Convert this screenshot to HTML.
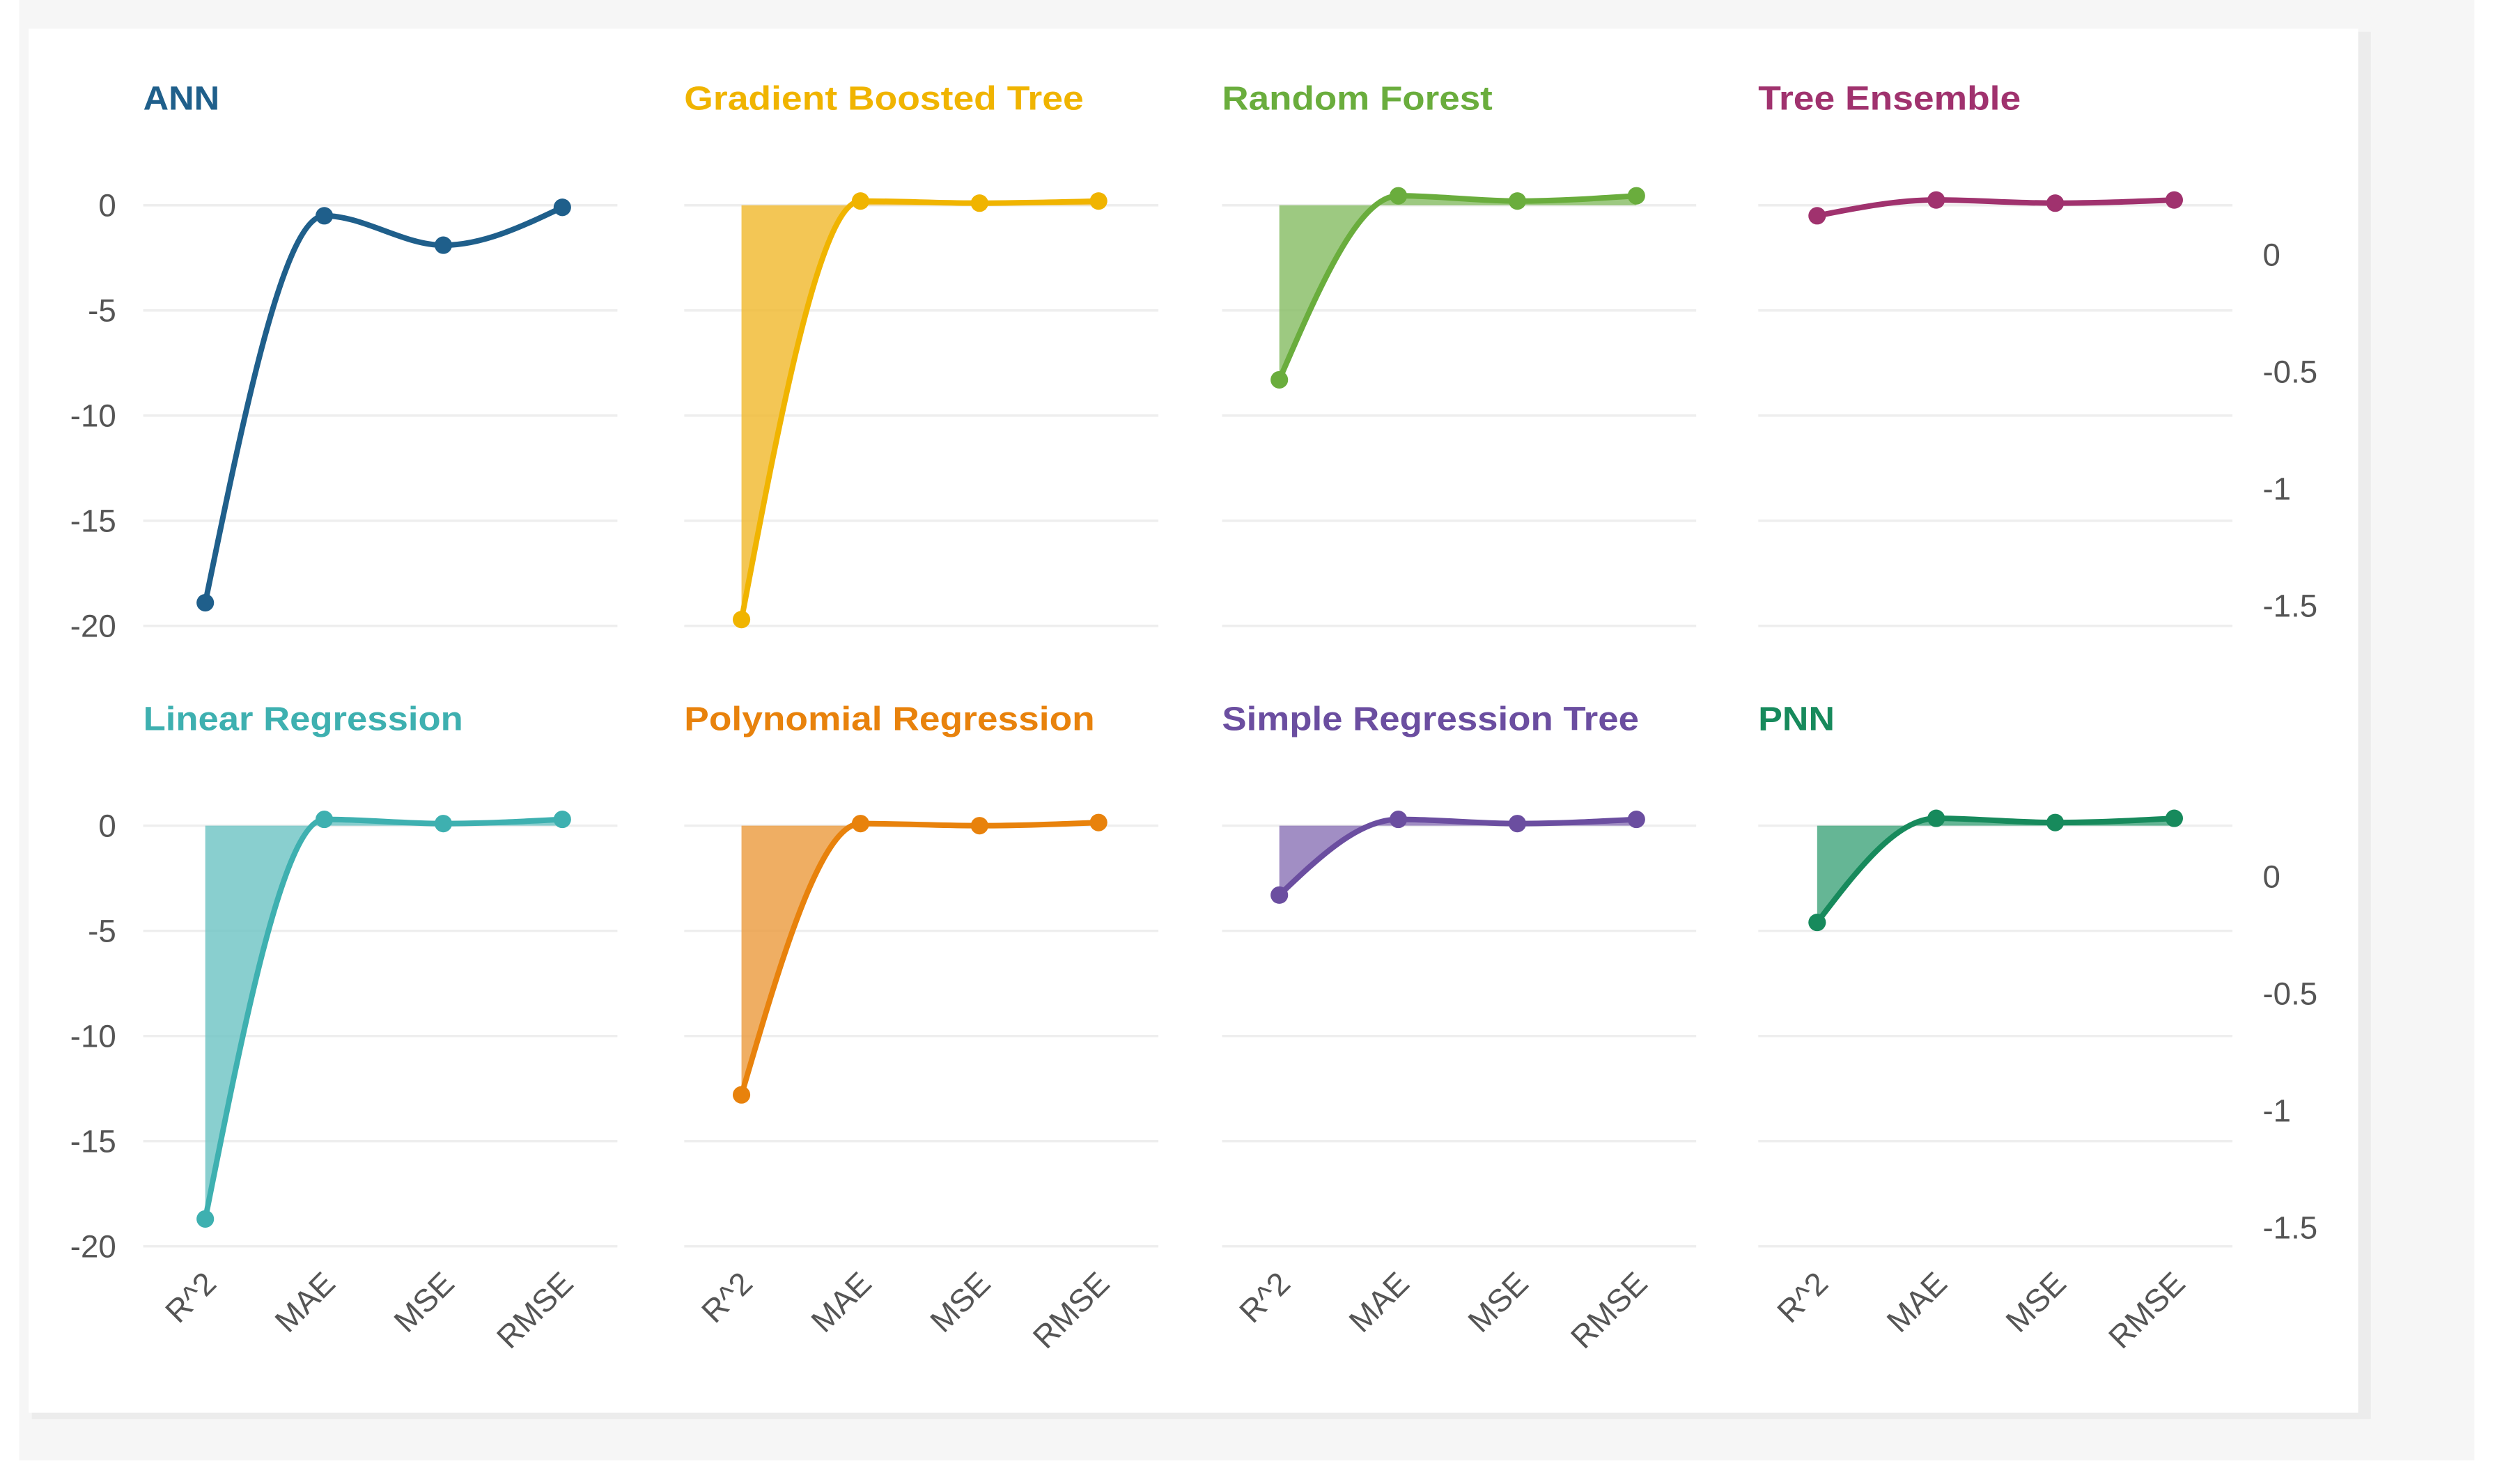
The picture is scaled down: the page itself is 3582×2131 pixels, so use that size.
<!DOCTYPE html>
<html><head><meta charset="utf-8">
<style>
html,body{margin:0;padding:0;background:#fff;}
svg{display:block;}
text{font-family:"Liberation Sans",sans-serif;}
</style></head>
<body>
<svg id="chart" width="3582" height="2131" viewBox="0 0 1568 932.8" xmlns="http://www.w3.org/2000/svg">
  <rect x="12" y="0" width="1543" height="918" fill="#f6f6f6"/>
  <rect x="20" y="20" width="1470" height="872" fill="#ececec"/>
  <rect x="18" y="18" width="1464" height="870" fill="#ffffff"/>
  <g id="plots"></g>
</svg>
<script>
const categories = ["R^2","MAE","MSE","RMSE"];
const modelNames = ["ANN","Gradient Boosted Tree","Random Forest","Tree Ensemble","Linear Regression","Polynomial Regression","Simple Regression Tree","PNN"];
const annValues = [-18.9,-0.5,-1.9,-0.1];
const gbtValues = [-19.7,0.2,0.1,0.2];
const rfValues = [-8.3,0.45,0.2,0.45];
const teValues = [-0.5,0.25,0.1,0.25];
const lrValues = [-18.7,0.3,0.1,0.3];
const prValues = [-12.8,0.1,0.0,0.15];
const srtValues = [-3.3,0.3,0.1,0.3];
const pnnValues = [-4.6,0.35,0.15,0.35];
const leftTicks = [0,-5,-10,-15,-20];
const rightTicks = [0,-0.5,-1,-1.5];

const seriesList = [annValues,gbtValues,rfValues,teValues,lrValues,prValues,srtValues,pnnValues];
const hasFill = [false,true,true,false,true,true,true,true];
const lineColors = ["#1f5f8b","#f0b400","#6aad3d","#a0326e","#3eb0b0","#e8820c","#6b4ea0","#178a5c"];
const fillColors = ["#1f5f8b","#f0b82a","#85bb62","#a0326e","#6cc3c3","#eb9a3c","#8a72b5","#3fa47a"];
const titleLens = [48,251,170,165,201,258,262,48];
const colX = [90,430,768,1105];
const pointStart = [129,466,804,1142];
const rowZero = [129,519];
const pxPerUnit = 13.22;
const rightZero = [160,551];
const rightPx = 147;

const NS = "http://www.w3.org/2000/svg";
const root = document.getElementById("plots");
function mk(tag, attrs, parent){
  const e = document.createElementNS(NS, tag);
  for (const k in attrs) e.setAttribute(k, attrs[k]);
  (parent||root).appendChild(e);
  return e;
}
function monotone(pts){
  const n = pts.length;
  const dx=[],dy=[],m=[],t=new Array(n);
  for(let i=0;i<n-1;i++){dx[i]=pts[i+1][0]-pts[i][0];dy[i]=pts[i+1][1]-pts[i][1];m[i]=dy[i]/dx[i];}
  for(let i=1;i<n-1;i++){
    if(m[i-1]*m[i]<=0) t[i]=0;
    else { const h0=dx[i-1],h1=dx[i]; const p=(m[i-1]*h1+m[i]*h0)/(h0+h1);
      t[i]=(Math.sign(m[i-1])+Math.sign(m[i]))*Math.min(Math.abs(m[i-1]),Math.abs(m[i]),0.5*Math.abs(p)); }
  }
  t[0]=(3*m[0]-t[1])/2; t[n-1]=(3*m[n-2]-t[n-2])/2;
  let d="M"+pts[0][0]+","+pts[0][1];
  for(let i=0;i<n-1;i++){
    const h=dx[i]/3;
    d+=" C"+(pts[i][0]+h)+","+(pts[i][1]+h*t[i])+" "+(pts[i+1][0]-h)+","+(pts[i+1][1]-h*t[i+1])+" "+pts[i+1][0]+","+pts[i+1][1];
  }
  return d;
}

for (let r=0;r<2;r++){
  const y0 = rowZero[r];
  const yScale = v => y0 - v*pxPerUnit;
  leftTicks.forEach(tv=>{
    const lt = mk("text",{x:73,y:yScale(tv)+7,"text-anchor":"end","font-size":20,fill:"#555"});
    
    
    lt.textContent = String(tv);
  });
  rightTicks.forEach(tv=>{
    const rt = mk("text",{x:1422,y:rightZero[r]-tv*rightPx+7,"text-anchor":"start","font-size":20,fill:"#555"});
    
    
    rt.textContent = String(tv);
  });
  for (let c=0;c<4;c++){
    const idx = r*4+c;
    const x0 = colX[c];
    const xScale = i => pointStart[c] + i*74.8;
    const g = mk("g",{});
    
    
    leftTicks.forEach(tv=>{
      const gl = mk("line",{x1:x0,x2:x0+298,y1:yScale(tv),y2:yScale(tv),stroke:"#eeeeee","stroke-width":1.5},g);
      
      
    });
    const tt = mk("text",{x:x0,y:(r?451:61)+8,"font-size":21,"font-weight":"bold",fill:lineColors[idx],textLength:titleLens[idx],lengthAdjust:"spacingAndGlyphs"},g);
    
    
    tt.textContent = modelNames[idx];
    const vals = seriesList[idx];
    const pts = vals.map((v,i)=>[xScale(i),yScale(v)]);
    const lineD = monotone(pts);
    if (hasFill[idx]) {
      const areaD = lineD + " L"+pts[pts.length-1][0]+","+y0+" L"+pts[0][0]+","+y0+" Z";
      const ar = mk("path",{d:areaD,fill:fillColors[idx],"fill-opacity":0.8},g);
      
      
    }
    const ln = mk("path",{d:lineD,fill:"none",stroke:lineColors[idx],"stroke-width":3.5},g);
    
    
    pts.forEach(p=>{
      const dot = mk("circle",{cx:p[0],cy:p[1],r:5.5,fill:lineColors[idx]},g);
      
      
    });
    if (r===1){
      categories.forEach((cat,i)=>{
        const tx = xScale(i)+8, ty = 808;
        const xl = mk("text",{x:tx,y:ty,"text-anchor":"end","font-size":20,fill:"#555",transform:"rotate(-45 "+tx+" "+ty+")"},g);
        
        
        xl.textContent = cat;
      });
    }
  }
}
</script>
</body></html>
